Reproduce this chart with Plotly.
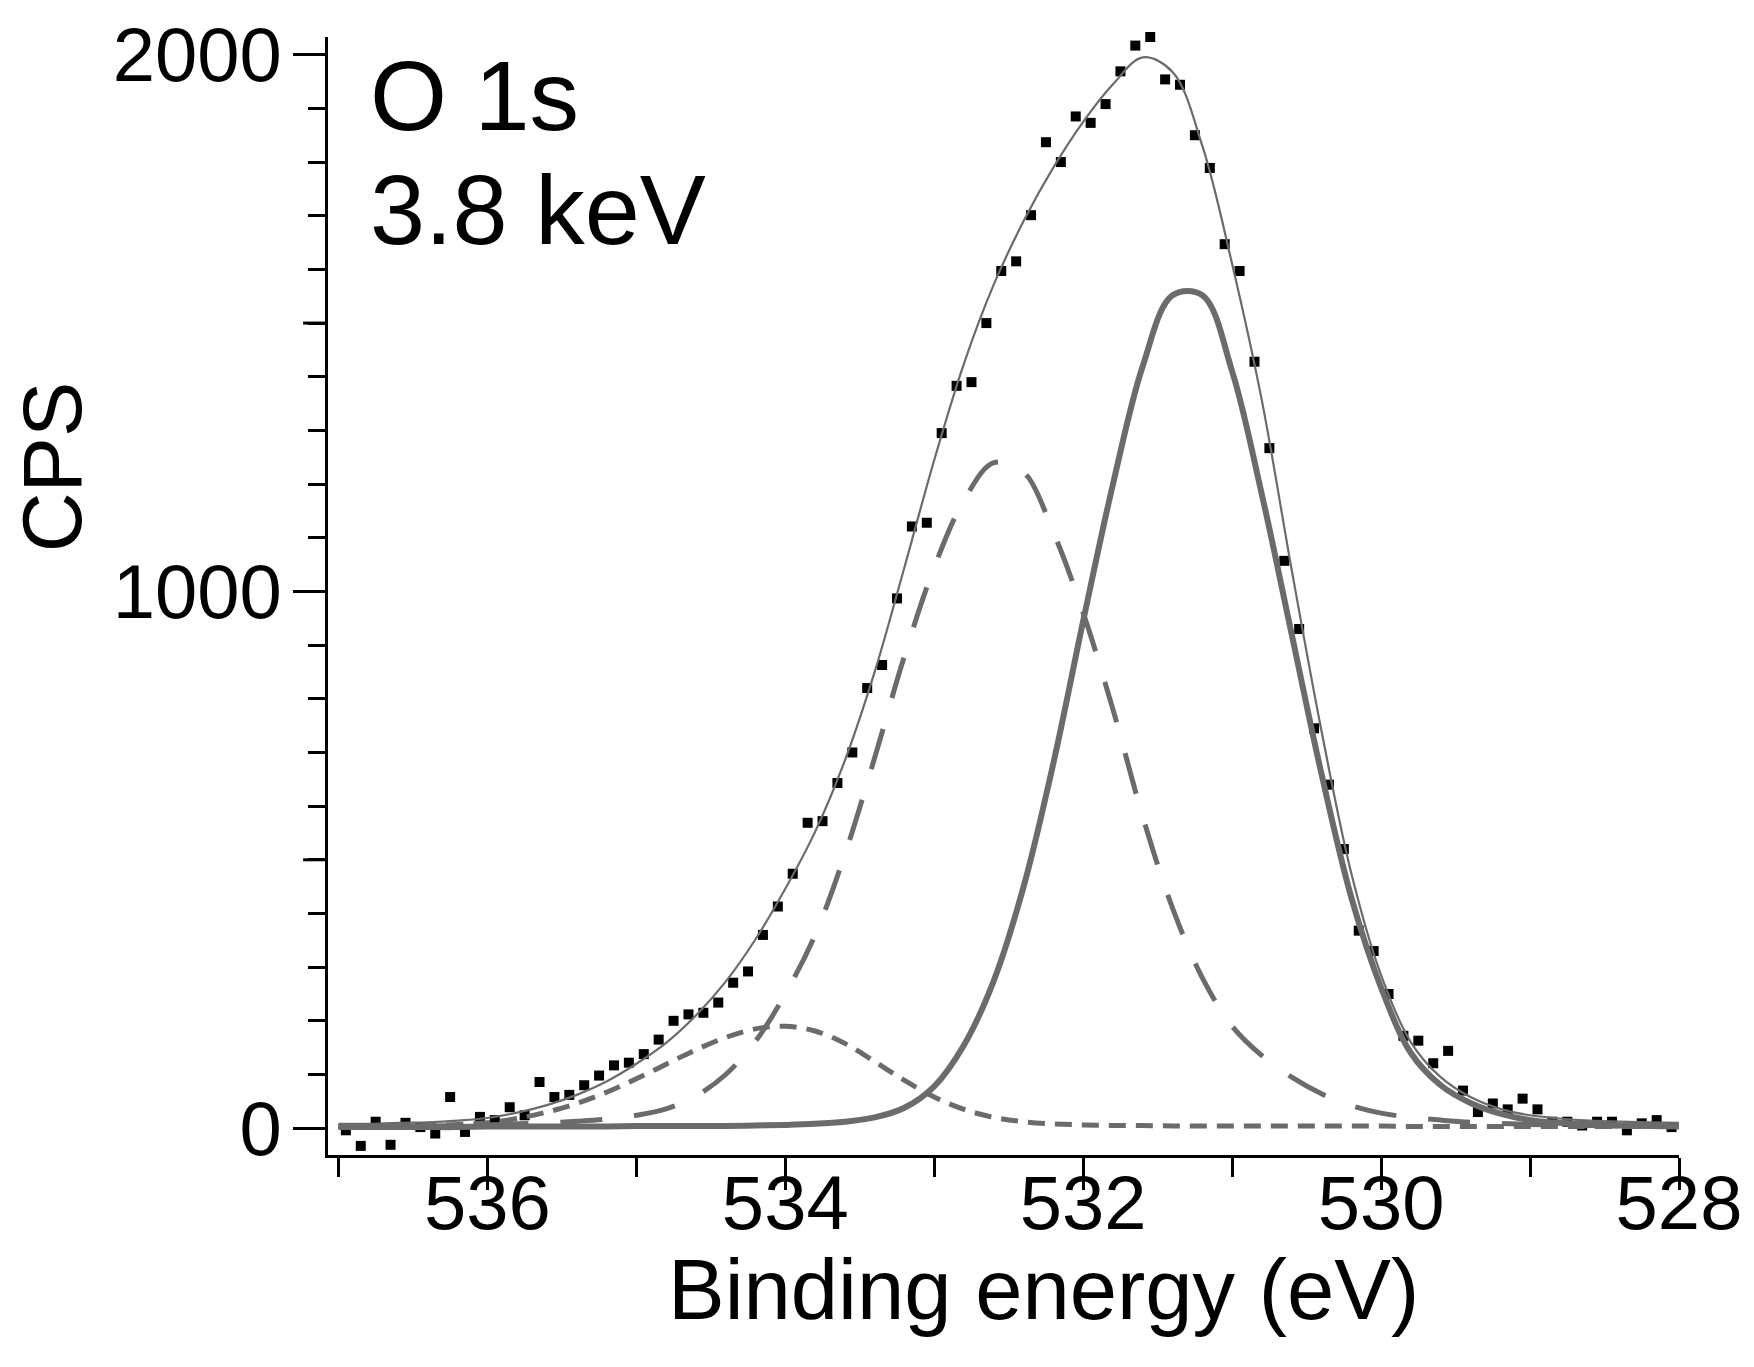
import plotly.graph_objects as go

# ---------------- data ----------------
energy_fit = [537.0, 536.8, 536.6, 536.4, 536.2, 536.0, 535.8, 535.6, 535.4, 535.2,
              535.0, 534.8, 534.6, 534.4, 534.2, 534.0, 533.8, 533.6, 533.4, 533.2,
              533.0, 532.8, 532.6, 532.4, 532.2, 532.0, 531.8, 531.6, 531.4, 531.2,
              531.0, 530.8, 530.6, 530.4, 530.2, 530.0, 529.8, 529.6, 529.4, 529.2,
              529.0, 528.8, 528.6, 528.4, 528.2, 528.0]

peak_lattice = [2, 2, 2, 2, 2, 3, 3, 3, 3, 3,
                4, 4, 4, 4, 5, 6, 8, 12, 20, 38,
                78, 155, 275, 450, 680, 945, 1200, 1420, 1552, 1552,
                1410, 1180, 920, 660, 430, 262, 140, 80, 47, 27,
                15, 10, 7, 5, 4, 3]

peak_middle = [3, 3, 4, 4, 5, 6, 8, 10, 13, 17,
               24, 36, 60, 100, 162, 250, 360, 510, 690, 880,
               1045, 1170, 1240, 1222, 1110, 960, 780, 580, 410, 280,
               190, 135, 95, 64, 42, 28, 20, 15, 11, 9,
               7, 6, 5, 4, 4, 3]

peak_high = [3, 3, 4, 5, 7, 10, 18, 30, 46, 67,
             92, 119, 146, 169, 185, 190, 181, 158, 124, 89,
             58, 35, 20, 12, 8, 6, 5, 5, 4, 4,
             4, 4, 4, 4, 4, 4, 3, 3, 3, 3,
             3, 3, 3, 3, 3, 3]

fit_total = [8, 8, 10, 11, 14, 19, 29, 43, 62, 87,
             120, 159, 210, 273, 352, 446, 552, 685, 850, 1045,
             1245, 1425, 1572, 1690, 1790, 1875, 1945, 1995, 1968, 1830,
             1610, 1355, 1040, 740, 475, 285, 160, 95, 58, 36,
             24, 18, 14, 12, 11, 10]

energy_data = [536.95, 536.85, 536.75, 536.65, 536.55, 536.45, 536.35, 536.25, 536.15, 536.05,
               535.95, 535.85, 535.75, 535.65, 535.55, 535.45, 535.35, 535.25, 535.15, 535.05,
               534.95, 534.85, 534.75, 534.65, 534.55, 534.45, 534.35, 534.25, 534.15, 534.05,
               533.95, 533.85, 533.75, 533.65, 533.55, 533.45, 533.35, 533.25, 533.15, 533.05,
               532.95, 532.85, 532.75, 532.65, 532.55, 532.45, 532.35, 532.25, 532.15, 532.05,
               531.95, 531.85, 531.75, 531.65, 531.55, 531.45, 531.35, 531.25, 531.15, 531.05,
               530.95, 530.85, 530.75, 530.65, 530.55, 530.45, 530.35, 530.25, 530.15, 530.05,
               529.95, 529.85, 529.75, 529.65, 529.55, 529.45, 529.35, 529.25, 529.15, 529.05,
               528.95, 528.85, 528.75, 528.65, 528.55, 528.45, 528.35, 528.25, 528.15, 528.05]

cps_data = [-4, -33, 12, -31, 10, 2, -10, 58, -7, 21,
            15, 39, 24, 86, 58, 62, 80, 98, 117, 122,
            138, 165, 200, 212, 215, 234, 271, 292, 360, 413,
            474, 569, 572, 643, 700, 820, 863, 987, 1121, 1128,
            1295, 1383, 1390, 1500, 1597, 1615, 1701, 1837, 1800, 1885,
            1873, 1908, 1969, 2017, 2033, 1954, 1944, 1850, 1789, 1647,
            1597, 1428, 1267, 1057, 930, 745, 640, 520, 368, 330,
            250, 172, 163, 121, 144, 70, 30, 46, 35, 55,
            35, 12, 12, 5, 12, 12, -4, 9, 15, 2]

x_range = [537.07, 528.0]
y_range = [-50, 2033]
y_medium_ticks = [500, 1500]

# ---------------- layout geometry (pixels) ----------------
W, H = 1754, 1367
L, R, T, B = 328, 1686, 29, 1155
PW, PH = R - L, B - T


def px(xp):
    return (xp - L) / PW


def py(yp):
    return (B - yp) / PH


FONT = "Liberation Sans, Arial, Helvetica, sans-serif"
GRAY = "#6b6b6b"

fig = go.Figure()

fig.add_trace(go.Scatter(
    x=energy_data, y=cps_data, mode="markers",
    marker=dict(symbol="square", size=10, color="black", line=dict(width=0)),
    showlegend=False, cliponaxis=False))

fig.add_trace(go.Scatter(
    x=energy_fit, y=peak_high, mode="lines",
    line=dict(color=GRAY, width=5, dash="17px,10px", shape="spline"),
    showlegend=False))

fig.add_trace(go.Scatter(
    x=energy_fit, y=peak_middle, mode="lines",
    line=dict(color=GRAY, width=5, dash="42px,32px", shape="spline"),
    showlegend=False))

fig.add_trace(go.Scatter(
    x=energy_fit, y=peak_lattice, mode="lines",
    line=dict(color=GRAY, width=6, shape="spline"),
    showlegend=False))

fig.add_trace(go.Scatter(
    x=energy_fit, y=fit_total, mode="lines",
    line=dict(color=GRAY, width=2.2, shape="spline"),
    showlegend=False))

axis_common = dict(
    showline=True, linewidth=3, linecolor="black",
    ticks="outside", tickwidth=3, tickcolor="black", ticklen=32,
    showgrid=False, zeroline=False,
    tickfont=dict(family=FONT, size=76, color="black"),
)

fig.update_xaxes(
    range=x_range, tickmode="linear", tick0=528, dtick=2,
    minor=dict(ticks="outside", dtick=1, tick0=528, ticklen=19, tickwidth=3,
               tickcolor="black", showgrid=False),
    ticklabelstandoff=-52,
    **axis_common)

fig.update_yaxes(
    range=y_range, tickmode="linear", tick0=0, dtick=1000,
    minor=dict(ticks="outside", dtick=100, tick0=0, ticklen=17, tickwidth=3,
               tickcolor="black", showgrid=False),
    ticklabelstandoff=-4,
    **axis_common)

shapes = []
for v in y_medium_ticks:
    shapes.append(dict(type="line", xref="paper", yref="y",
                       x0=px(303), x1=px(L), y0=v, y1=v,
                       line=dict(color="black", width=3)))

annotations = [
    dict(text="O 1s", xref="paper", yref="paper", x=px(368), y=py(88),
         xanchor="left", yanchor="middle", showarrow=False,
         font=dict(family=FONT, size=99, color="black")),
    dict(text="3.8 keV", xref="paper", yref="paper", x=px(368), y=py(203),
         xanchor="left", yanchor="middle", showarrow=False,
         font=dict(family=FONT, size=99, color="black")),
    dict(text="CPS", xref="paper", yref="paper", x=px(52), y=py(462),
         xanchor="center", yanchor="middle", textangle=-90, showarrow=False,
         font=dict(family=FONT, size=83, color="black")),
    dict(text="Binding energy (eV)", xref="paper", yref="paper", x=px(1047), y=py(1290),
         xanchor="center", yanchor="middle", showarrow=False,
         font=dict(family=FONT, size=85, color="black")),
]

fig.update_layout(
    width=W, height=H,
    margin=dict(l=L, r=W - R, t=T, b=H - B, pad=0),
    paper_bgcolor="white", plot_bgcolor="white",
    shapes=shapes, annotations=annotations,
    showlegend=False,
)

fig.write_html("out.html")
